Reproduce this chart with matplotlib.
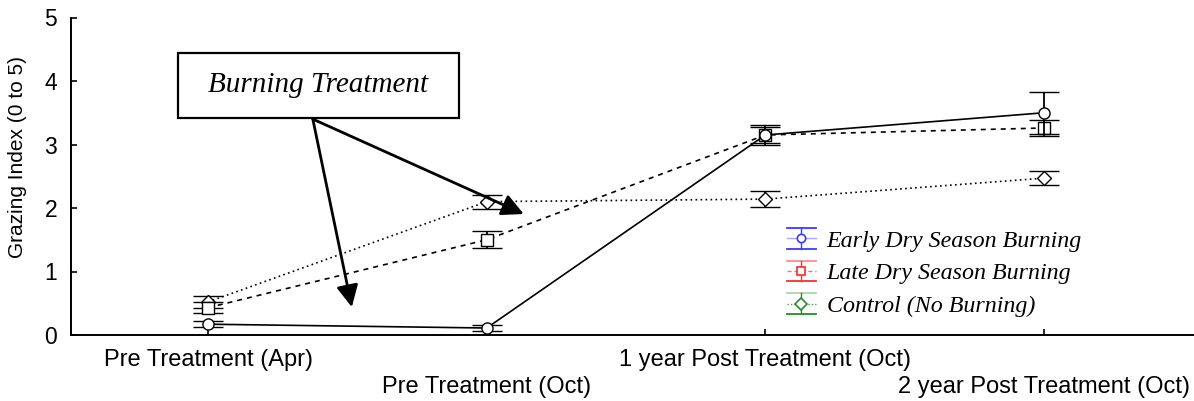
import matplotlib
matplotlib.use("Agg")
import matplotlib.pyplot as plt
from matplotlib.lines import Line2D
from matplotlib.legend_handler import HandlerBase
from matplotlib.patches import Rectangle

# ---- data -------------------------------------------------------------
periods = ["Pre Treatment (Apr)", "Pre Treatment (Oct)",
           "1 year Post Treatment (Oct)", "2 year Post Treatment (Oct)"]

early = [0.17, 0.11, 3.15, 3.50]
early_err = [0.05, 0.04, 0.13, 0.33]

late = [0.43, 1.50, 3.15, 3.26]
late_err = [0.085, 0.13, 0.15, 0.12]

control = [0.52, 2.10, 2.14, 2.47]
control_err = [0.10, 0.11, 0.12, 0.11]

series_names = ["Early Dry Season Burning", "Late Dry Season Burning",
                "Control (No Burning)"]

# ---- figure -----------------------------------------------------------
fig = plt.figure(figsize=(11.94, 4.01), dpi=100)
ax = fig.add_axes([71 / 1194, 1 - 335 / 401, 1 - 71 / 1194, (335 - 17.5) / 401])

x = list(range(len(periods)))
common = dict(color="black", mfc="white", mec="black", ecolor="black",
              capsize=10.5, capthick=1.8, elinewidth=1.3, lw=1.2, mew=1.0)

ax.errorbar(x, control, yerr=control_err, ls=(0, (1, 2)), marker="D",
            ms=7, zorder=3, **common)
ax.errorbar(x, late, yerr=late_err, ls=(0, (3, 3)), marker="s",
            ms=8, zorder=4, **common)
ax.errorbar(x, early, yerr=early_err, ls="-", marker="o",
            ms=8, zorder=5, **common)

ax.set_xlim(-0.4917, 3.538)
ax.set_ylim(0, 5)
ax.set_yticks(range(6))
ax.set_xticks(x)
ax.set_xticklabels([p if i % 2 == 0 else "\n" + p for i, p in enumerate(periods)],
                   fontname="Liberation Sans", fontsize=17, linespacing=1.3)
for lab in ax.get_yticklabels():
    lab.set_fontname("Liberation Sans")
    lab.set_fontsize(16.5)
ax.tick_params(axis="both", direction="in", length=4, width=1.2)
ax.tick_params(axis="x", pad=10)
ax.tick_params(axis="y", pad=10)
ax.spines["top"].set_visible(False)
ax.spines["right"].set_visible(False)
for s in ("left", "bottom"):
    ax.spines[s].set_linewidth(1.4)

ax.set_ylabel("Grazing Index (0 to 5)", fontname="Liberation Sans", fontsize=15)
ax.yaxis.set_label_coords(-0.039, 0.56)

# ---- annotation box with arrows ----------------------------------------
box = Rectangle((-0.108, 3.42), 1.008, 1.02, fill=True, facecolor="white",
                edgecolor="black", lw=1.6, zorder=6, clip_on=False)
ax.add_patch(box)
ax.text(0.396, 3.93, "Burning Treatment", fontname="Liberation Serif",
        style="italic", fontsize=21, ha="center", va="center", zorder=7)
arrow_kw = dict(arrowstyle="-|>", lw=2.0, color="black", mutation_scale=33,
                shrinkA=0, shrinkB=0)
ax.annotate("", xy=(0.516, 0.44), xytext=(0.376, 3.40), arrowprops=arrow_kw,
            zorder=8)
ax.annotate("", xy=(1.133, 1.905), xytext=(0.376, 3.40), arrowprops=arrow_kw,
            zorder=8)


# ---- legend -----------------------------------------------------------
class ErrorKeyHandler(HandlerBase):
    def __init__(self, top, mid, bot, mid_ls, marker):
        super().__init__()
        self.top, self.mid, self.bot = top, mid, bot
        self.mid_ls, self.marker = mid_ls, marker

    def create_artists(self, legend, orig_handle, xdescent, ydescent,
                       width, height, fontsize, trans):
        cy = height / 2 - ydescent
        half = 0.62 * height
        x0, x1 = -xdescent, -xdescent + width
        xm = (x0 + x1) / 2
        arts = [
            Line2D([x0, x1], [cy + half] * 2, color=self.top, lw=1.3),
            Line2D([x0, x1], [cy, cy], color=self.mid, lw=1.0, ls=self.mid_ls),
            Line2D([x0, x1], [cy - half] * 2, color=self.bot, lw=1.3),
            Line2D([xm, xm], [cy - half, cy + half], color=self.bot, lw=1.0),
            Line2D([xm], [cy], marker=self.marker, ms=6, mfc="white",
                   mec=self.bot, mew=1.2, ls="none"),
        ]
        for a in arts:
            a.set_transform(trans)
        return arts


handles = [Line2D([], []) for _ in series_names]
hmap = {
    handles[0]: ErrorKeyHandler("#3a3aff", "#a8a8ff", "#3a3aff", "-", "o"),
    handles[1]: ErrorKeyHandler("#ff8c8c", "#ff7070", "#ff2a2a", (0, (3, 2)), "s"),
    handles[2]: ErrorKeyHandler("#a8d8a8", "#40a040", "#2a8a2a", (0, (1, 1.5)), "D"),
}
leg = ax.legend(handles, series_names, handler_map=hmap, frameon=False,
                loc="upper left", bbox_to_anchor=(775 / 1194, 1 - 218 / 401),
                bbox_transform=fig.transFigure, handlelength=1.2,
                handletextpad=0.45, labelspacing=0.45, borderpad=0,
                prop=dict(family="Liberation Serif", style="italic", size=17.3))

fig.savefig("out.png", dpi=100)
